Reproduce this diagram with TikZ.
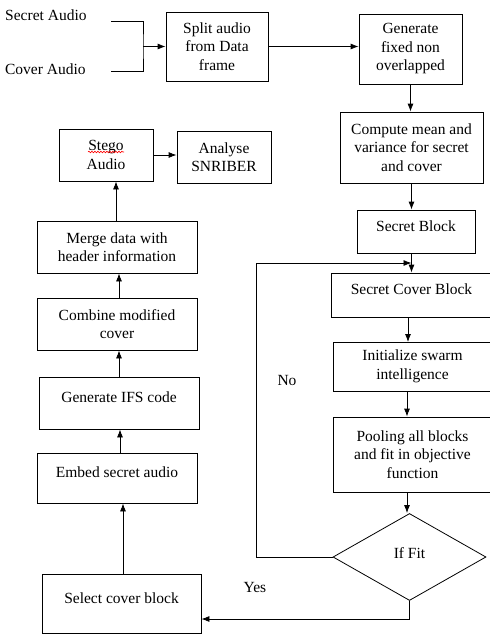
\documentclass[tikz,border=0pt]{standalone}
\usepackage{fontspec}
\setmainfont{Liberation Serif}
\usetikzlibrary{shapes.geometric,decorations.pathmorphing,arrows.meta,calc}

\begin{document}
\begin{tikzpicture}[x=1pt, y=-1pt, line width=0.8pt,
    font=\fontsize{15.5}{18.5}\selectfont,
    box/.style={draw, inner sep=0pt, align=center},
    upper/.style={text height=11pt, text depth=12pt},
    arr/.style={-{Latex[length=8pt,width=6pt]}}]
    \useasboundingbox[fill=white] (0,0) rectangle (490,635);

    % inputs
    \node[anchor=east, inner sep=0pt] (sectxt) at (87,15) {Secret Audio};
    \node[anchor=east, inner sep=0pt] (covtxt) at (86,69) {Cover Audio};
    \coordinate (sa) at (111,21);
    \coordinate (ca) at (111,71);
    \coordinate (jn) at (143,46.5);

    % right column
    \node[box, minimum width=102, minimum height=69] (split) at (217,46.5) {Split audio\\from Data\\frame};
    \node[box, minimum width=103, minimum height=70] (gen) at (410.5,49) {Generate\\fixed non\\overlapped};
    \node[box, minimum width=143, minimum height=71] (comp) at (411.5,147.5) {Compute mean and\\variance for secret\\and cover};
    \node[box, upper, minimum width=118, minimum height=43] (sblock) at (416,231.5) {Secret Block};
    \node[box, upper, minimum width=161, minimum height=44] (scb) at (411.5,295) {Secret Cover Block};
    \node[box, minimum width=159, minimum height=49] (init) at (412.5,366.5) {Initialize swarm\\intelligence};
    \node[box, minimum width=159, minimum height=75] (pool) at (412.5,454.5) {Pooling all blocks\\and fit in objective\\function};
    \node[draw, diamond, inner sep=0pt, text depth=8pt, minimum width=153, minimum height=87] (fit) at (409.5,557) {If Fit};

    % left column
    \node[box, minimum width=94, minimum height=52] (stego) at (106,155) {Stego\\Audio};
    \node[box, minimum width=94, minimum height=52] (analyse) at (224,157) {Analyse\\SNRIBER};
    \node[box, minimum width=160, minimum height=52] (merge) at (117,247) {Merge data with\\header information};
    \node[box, minimum width=160, minimum height=52] (combine) at (117,324) {Combine modified\\cover};
    \node[box, upper, minimum width=160, minimum height=52] (ifs) at (119,403) {Generate IFS code};
    \node[box, upper, minimum width=160, minimum height=50] (embed) at (117,478) {Embed secret audio};
    \node[box, upper, minimum width=159, minimum height=59] (select) at (121.5,603.5) {Select cover block};

    \node (no) at (287,380) {No};
    \node (yes) at (255,587) {Yes};

    % spell check mark
    \draw[red, line width=0.6pt, decorate, decoration={snake, amplitude=0.8pt, segment length=3pt}]
        ($(stego.center)+(-18,-3)$) -- ($(stego.center)+(18,-3)$);

    % connectors
    \draw (sa) -| (jn) |- (ca);
    \draw[arr] (jn) -- (split.west);
    \draw[arr] (split.east) -- (split.east -| gen.west);
    \draw[arr] (gen.south) -- (gen.south |- comp.north);
    \draw[arr] (comp.south) -- (comp.south |- sblock.north);
    \draw[arr] (sblock.south -| comp.south) -- (comp.south |- scb.north);
    \coordinate (lp) at (256,263);
    \draw[arr] (fit.west) -| (lp) -- (lp -| comp.south);
    \draw[arr] (408,317) -- (408,342);
    \draw[arr] (407,391) -- (pool.north -| 407,0);
    \draw[arr] (pool.south -| 407,0) -- (fit.north -| 407,0);
    \coordinate (yb) at (409.5,619);
    \draw[arr] (fit.south) -- (yb) -- (yb -| select.east);
    \draw[arr] (select.north -| 123,0) -- (embed.south -| 123,0);
    \draw[arr] (embed.north -| 120,0) -- (ifs.south -| 120,0);
    \draw[arr] (ifs.north -| 119,0) -- (combine.south -| 119,0);
    \draw[arr] (combine.north -| 119,0) -- (merge.south -| 119,0);
    \draw[arr] (merge.north -| 116,0) -- (stego.south -| 116,0);
    \draw[arr] (stego.east) -- (analyse.west |- stego.east);
\end{tikzpicture}
\end{document}
